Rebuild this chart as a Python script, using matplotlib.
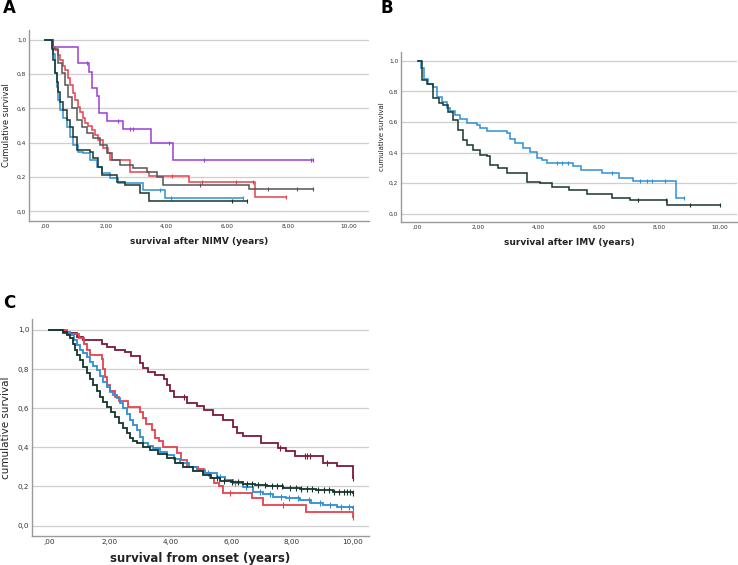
import numpy as np
import matplotlib
matplotlib.use("Agg")
import matplotlib.pyplot as plt

# ---------------- data ----------------
# panel A : survival after NIMV
a_purple_t = [0, 0.27, 1.10, 1.46, 1.56, 1.71, 1.79, 2.03, 2.56, 3.49, 4.21, 8.85]
a_purple_s = [1.0, 0.96, 0.868, 0.815, 0.722, 0.673, 0.576, 0.529, 0.482, 0.399, 0.298, 0.298]
a_purple_c = [1.37, 2.41, 2.79, 2.89, 4.08, 5.24, 8.76, 8.85]

a_red_t = [0, 0.25, 0.33, 0.41, 0.49, 0.58, 0.66, 0.74, 0.82, 0.91, 0.99, 1.07, 1.15, 1.24,
           1.32, 1.43, 1.54, 1.65, 1.76, 1.92, 2.09, 2.14, 2.80, 3.41, 4.73, 6.92, 7.93]
a_red_s = [1.0, 0.96, 0.94, 0.91, 0.883, 0.85, 0.825, 0.78, 0.737, 0.69, 0.65, 0.61, 0.58, 0.545,
           0.514, 0.495, 0.475, 0.445, 0.416, 0.368, 0.339, 0.30, 0.231, 0.206, 0.17, 0.085, 0.085]
a_red_c = [4.20, 5.18, 6.30, 6.85, 7.93]

a_gray_t = [0, 0.27, 0.44, 0.55, 0.66, 0.77, 0.88, 1.04, 1.21, 1.37, 1.59, 1.81, 2.03, 2.20,
            2.47, 2.91, 3.35, 3.68, 3.90, 6.74, 8.85]
a_gray_s = [1.0, 0.95, 0.864, 0.806, 0.737, 0.669, 0.601, 0.533, 0.494, 0.455, 0.426, 0.387,
            0.339, 0.30, 0.27, 0.251, 0.231, 0.202, 0.155, 0.128, 0.128]
a_gray_c = [5.10, 7.36, 8.30, 8.85]

a_blue_t = [0, 0.22, 0.27, 0.33, 0.38, 0.44, 0.49, 0.60, 0.71, 0.82, 0.93, 1.10, 1.26, 1.48,
            1.70, 1.87, 2.14, 2.42, 3.24, 3.96, 6.52]
a_blue_s = [1.0, 0.96, 0.92, 0.806, 0.727, 0.65, 0.591, 0.543, 0.494, 0.436, 0.387, 0.348,
            0.339, 0.30, 0.26, 0.222, 0.193, 0.163, 0.124, 0.078, 0.078]
a_blue_c = [3.80, 4.15, 6.52]

a_dark_t = [0, 0.22, 0.27, 0.33, 0.38, 0.44, 0.49, 0.60, 0.71, 0.82, 0.93, 1.04, 1.48, 1.59,
            1.76, 1.87, 2.36, 2.63, 3.13, 3.41, 6.67]
a_dark_s = [1.0, 0.95, 0.883, 0.806, 0.757, 0.698, 0.64, 0.591, 0.533, 0.494, 0.436, 0.36,
            0.348, 0.31, 0.26, 0.212, 0.173, 0.154, 0.105, 0.058, 0.058]
a_dark_c = [6.17, 6.67]

# panel B : survival after IMV
b_blue_t = [0, 0.10, 0.21, 0.35, 0.50, 0.63, 0.79, 0.96, 1.07, 1.23, 1.40, 1.62, 1.95, 2.06,
            2.28, 2.94, 3.05, 3.22, 3.49, 3.71, 3.94, 4.10, 4.27, 5.15, 5.40, 6.09, 6.66, 7.13,
            8.53, 8.81]
b_blue_s = [1.0, 0.95, 0.88, 0.85, 0.83, 0.765, 0.73, 0.69, 0.67, 0.645, 0.62, 0.595, 0.58,
            0.558, 0.54, 0.525, 0.49, 0.46, 0.427, 0.405, 0.362, 0.35, 0.333, 0.312, 0.288,
            0.268, 0.235, 0.212, 0.105, 0.105]
b_blue_c = [4.60, 4.76, 4.96, 6.42, 7.35, 7.57, 7.76, 8.18, 8.81]

b_dark_t = [0, 0.13, 0.30, 0.52, 0.70, 0.85, 1.01, 1.18, 1.34, 1.51, 1.62, 1.84, 2.06, 2.28,
            2.39, 2.67, 2.94, 3.60, 4.05, 4.43, 5.00, 5.59, 6.42, 7.02, 8.24, 10.0]
b_dark_s = [1.0, 0.874, 0.85, 0.754, 0.725, 0.71, 0.667, 0.612, 0.547, 0.48, 0.45, 0.416,
            0.384, 0.375, 0.318, 0.297, 0.264, 0.21, 0.199, 0.172, 0.155, 0.127, 0.105, 0.09,
            0.059, 0.059]
b_dark_c = [7.27, 8.20, 9.00, 10.0]

# panel C : survival from onset
c_maroon_t = [0, 0.46, 0.90, 1.10, 1.73, 1.90, 2.17, 2.50, 2.70, 2.99, 3.10, 3.27, 3.50, 3.80,
              3.90, 4.00, 4.10, 4.55, 4.86, 5.10, 5.41, 5.74, 6.07, 6.18, 6.40, 7.00, 7.56,
              7.80, 8.11, 9.04, 9.49, 10.01]
c_maroon_s = [1.0, 0.985, 0.965, 0.949, 0.93, 0.915, 0.90, 0.889, 0.867, 0.83, 0.804, 0.785,
              0.77, 0.75, 0.72, 0.69, 0.659, 0.625, 0.612, 0.59, 0.566, 0.54, 0.506, 0.472,
              0.458, 0.424, 0.395, 0.383, 0.356, 0.322, 0.305, 0.242]
c_maroon_c = [4.46, 7.60, 8.45, 8.52, 8.60, 9.18, 10.01]

c_red_t = [0, 0.57, 0.99, 1.15, 1.25, 1.35, 1.73, 1.78, 1.85, 1.92, 2.00, 2.17, 2.30, 2.61,
           2.99, 3.10, 3.20, 3.38, 3.50, 3.62, 3.75, 4.20, 4.35, 4.55, 4.90, 5.10, 5.30, 5.45,
           5.60, 5.74, 6.68, 7.06, 8.47, 10.01]
c_red_s = [1.0, 0.98, 0.96, 0.93, 0.90, 0.872, 0.85, 0.80, 0.76, 0.72, 0.69, 0.659, 0.635,
           0.607, 0.58, 0.55, 0.52, 0.49, 0.45, 0.43, 0.404, 0.37, 0.335, 0.30, 0.29, 0.27,
           0.245, 0.22, 0.20, 0.169, 0.14, 0.106, 0.072, 0.046]
c_red_c = [5.96, 7.72, 10.01]

c_blue_t = [0, 0.45, 0.68, 0.80, 0.90, 1.01, 1.12, 1.23, 1.34, 1.45, 1.56, 1.67, 1.78, 1.89,
            2.00, 2.11, 2.22, 2.33, 2.44, 2.55, 2.66, 2.77, 2.88, 3.00, 3.10, 3.25, 3.43, 3.65,
            3.87, 4.10, 4.31, 4.60, 4.86, 5.13, 5.52, 5.80, 6.07, 6.40, 6.73, 7.05, 7.39, 7.80,
            8.27, 8.65, 9.04, 9.50, 10.03]
c_blue_s = [1.0, 0.99, 0.974, 0.95, 0.923, 0.90, 0.881, 0.86, 0.838, 0.817, 0.796, 0.766,
            0.736, 0.71, 0.685, 0.668, 0.651, 0.625, 0.60, 0.57, 0.54, 0.515, 0.489, 0.455,
            0.421, 0.408, 0.395, 0.378, 0.361, 0.34, 0.319, 0.30, 0.285, 0.27, 0.25, 0.233,
            0.217, 0.195, 0.174, 0.16, 0.148, 0.14, 0.131, 0.118, 0.106, 0.097, 0.089]
c_blue_c = [5.25, 5.62, 6.12, 6.48, 6.95, 7.28, 7.63, 7.91, 8.22, 8.58, 8.93, 9.27, 9.61,
            9.88, 10.03]

c_dark_t = [0, 0.46, 0.60, 0.68, 0.77, 0.85, 0.93, 1.01, 1.12, 1.23, 1.34, 1.45, 1.56, 1.67,
            1.78, 1.89, 2.03, 2.17, 2.30, 2.44, 2.55, 2.66, 2.77, 2.88, 3.10, 3.32, 3.60, 3.87,
            4.15, 4.42, 4.75, 5.08, 5.35, 5.63, 6.00, 6.40, 6.80, 7.17, 7.70, 8.27, 8.80, 9.37,
            9.70, 10.03]
c_dark_s = [1.0, 0.99, 0.975, 0.957, 0.93, 0.898, 0.872, 0.847, 0.813, 0.779, 0.75, 0.719,
            0.69, 0.659, 0.633, 0.608, 0.583, 0.557, 0.527, 0.498, 0.472, 0.447, 0.434, 0.421,
            0.404, 0.387, 0.366, 0.344, 0.322, 0.301, 0.28, 0.259, 0.245, 0.23, 0.222, 0.213,
            0.206, 0.20, 0.194, 0.188, 0.181, 0.174, 0.171, 0.169]
c_dark_c = [5.52, 5.78, 6.03, 6.24, 6.51, 6.69, 6.88, 7.12, 7.34, 7.52, 7.68, 7.93, 8.14,
            8.31, 8.52, 8.68, 8.86, 9.05, 9.22, 9.41, 9.57, 9.72, 9.84, 9.93, 10.03]

x_ticks = [0, 2, 4, 6, 8, 10]
x_ticklabels = [",00", "2,00", "4,00", "6,00", "8,00", "10,00"]
y_ticks = [0.0, 0.2, 0.4, 0.6, 0.8, 1.0]
y_ticklabels = ["0,0", "0,2", "0,4", "0,6", "0,8", "1,0"]

PURPLE = "#9b3fd6"
RED = "#e6414d"
GRAY = "#555555"
BLUE = "#2f8fd4"
DARK = "#17352f"
MAROON = "#7b1a3c"


def surv_at(t, s, tc):
    idx = np.searchsorted(t, tc, side="right") - 1
    return np.asarray(s)[np.clip(idx, 0, len(s) - 1)]


def km(ax, t, s, cens, color, lw, ms):
    ax.step(t, s, where="post", color=color, lw=lw, solid_joinstyle="miter", zorder=3)
    ax.plot(cens, surv_at(t, s, cens), ls="none", marker="|", color=color,
            ms=ms, mew=0.8, zorder=3)


def style(ax, xlim, ylim, fs_tick, xlabel, ylabel, fs_xl, fs_yl, xlpad, ylpad, bold_x=True):
    ax.set_xlim(*xlim)
    ax.set_ylim(*ylim)
    ax.set_xticks(x_ticks)
    ax.set_xticklabels(x_ticklabels)
    ax.set_yticks(y_ticks)
    ax.set_yticklabels(y_ticklabels)
    ax.tick_params(length=0, labelsize=fs_tick, colors="#333333", pad=2)
    for y in y_ticks:
        ax.axhline(y, color="#cfcfcf", lw=0.9, zorder=1)
    for side in ["top", "right"]:
        ax.spines[side].set_visible(False)
    for side in ["left", "bottom"]:
        ax.spines[side].set_color("#9a9a9a")
        ax.spines[side].set_linewidth(1.0)
    ax.set_xlabel(xlabel, fontsize=fs_xl, fontweight="bold" if bold_x else "normal",
                  color="#222222", labelpad=xlpad)
    ax.set_ylabel(ylabel, fontsize=fs_yl, color="#222222", labelpad=ylpad)


fig = plt.figure(figsize=(7.38, 5.65), dpi=100)
W, H = 738.0, 565.0


def rect(l, r, top, bot):
    return [l / W, 1 - bot / H, (r - l) / W, (bot - top) / H]


# panel A
axA = fig.add_axes(rect(29, 369, 30, 220.7))
km(axA, a_purple_t, a_purple_s, a_purple_c, PURPLE, 1.1, 3)
km(axA, a_red_t, a_red_s, a_red_c, RED, 1.1, 3)
km(axA, a_gray_t, a_gray_s, a_gray_c, GRAY, 1.1, 3)
km(axA, a_blue_t, a_blue_s, a_blue_c, BLUE, 1.1, 3)
km(axA, a_dark_t, a_dark_s, a_dark_c, DARK, 1.1, 3)
style(axA, (-0.53, 10.68), (-0.055, 1.058), 4.2, "survival after NIMV (years)",
      "Cumulative survival", 6.5, 6.0, 6, 4)

# panel B
axB = fig.add_axes(rect(401, 737, 52, 222))
km(axB, b_blue_t, b_blue_s, b_blue_c, BLUE, 1.1, 3)
km(axB, b_dark_t, b_dark_s, b_dark_c, DARK, 1.1, 3)
style(axB, (-0.55, 10.56), (-0.054, 1.057), 4.2, "survival after IMV (years)",
      "cumulative survival", 6.5, 5.0, 6, 3)

# panel C
axC = fig.add_axes(rect(32, 369, 319, 536))
km(axC, c_maroon_t, c_maroon_s, c_maroon_c, MAROON, 1.3, 4)
km(axC, c_red_t, c_red_s, c_red_c, RED, 1.3, 4)
km(axC, c_blue_t, c_blue_s, c_blue_c, BLUE, 1.3, 4)
km(axC, c_dark_t, c_dark_s, c_dark_c, DARK, 1.3, 4)
style(axC, (-0.57, 10.55), (-0.053, 1.056), 5.2, "survival from onset (years)",
      "cumulative survival", 8.5, 7.5, 5, 5)

fig.text(3 / W, 1 - 8 / H, "A", fontsize=12, fontweight="bold", va="center", ha="left")
fig.text(381 / W, 1 - 8 / H, "B", fontsize=12, fontweight="bold", va="center", ha="left")
fig.text(3 / W, 1 - 303 / H, "C", fontsize=12, fontweight="bold", va="center", ha="left")

fig.savefig("out.png", dpi=100, facecolor="white")
